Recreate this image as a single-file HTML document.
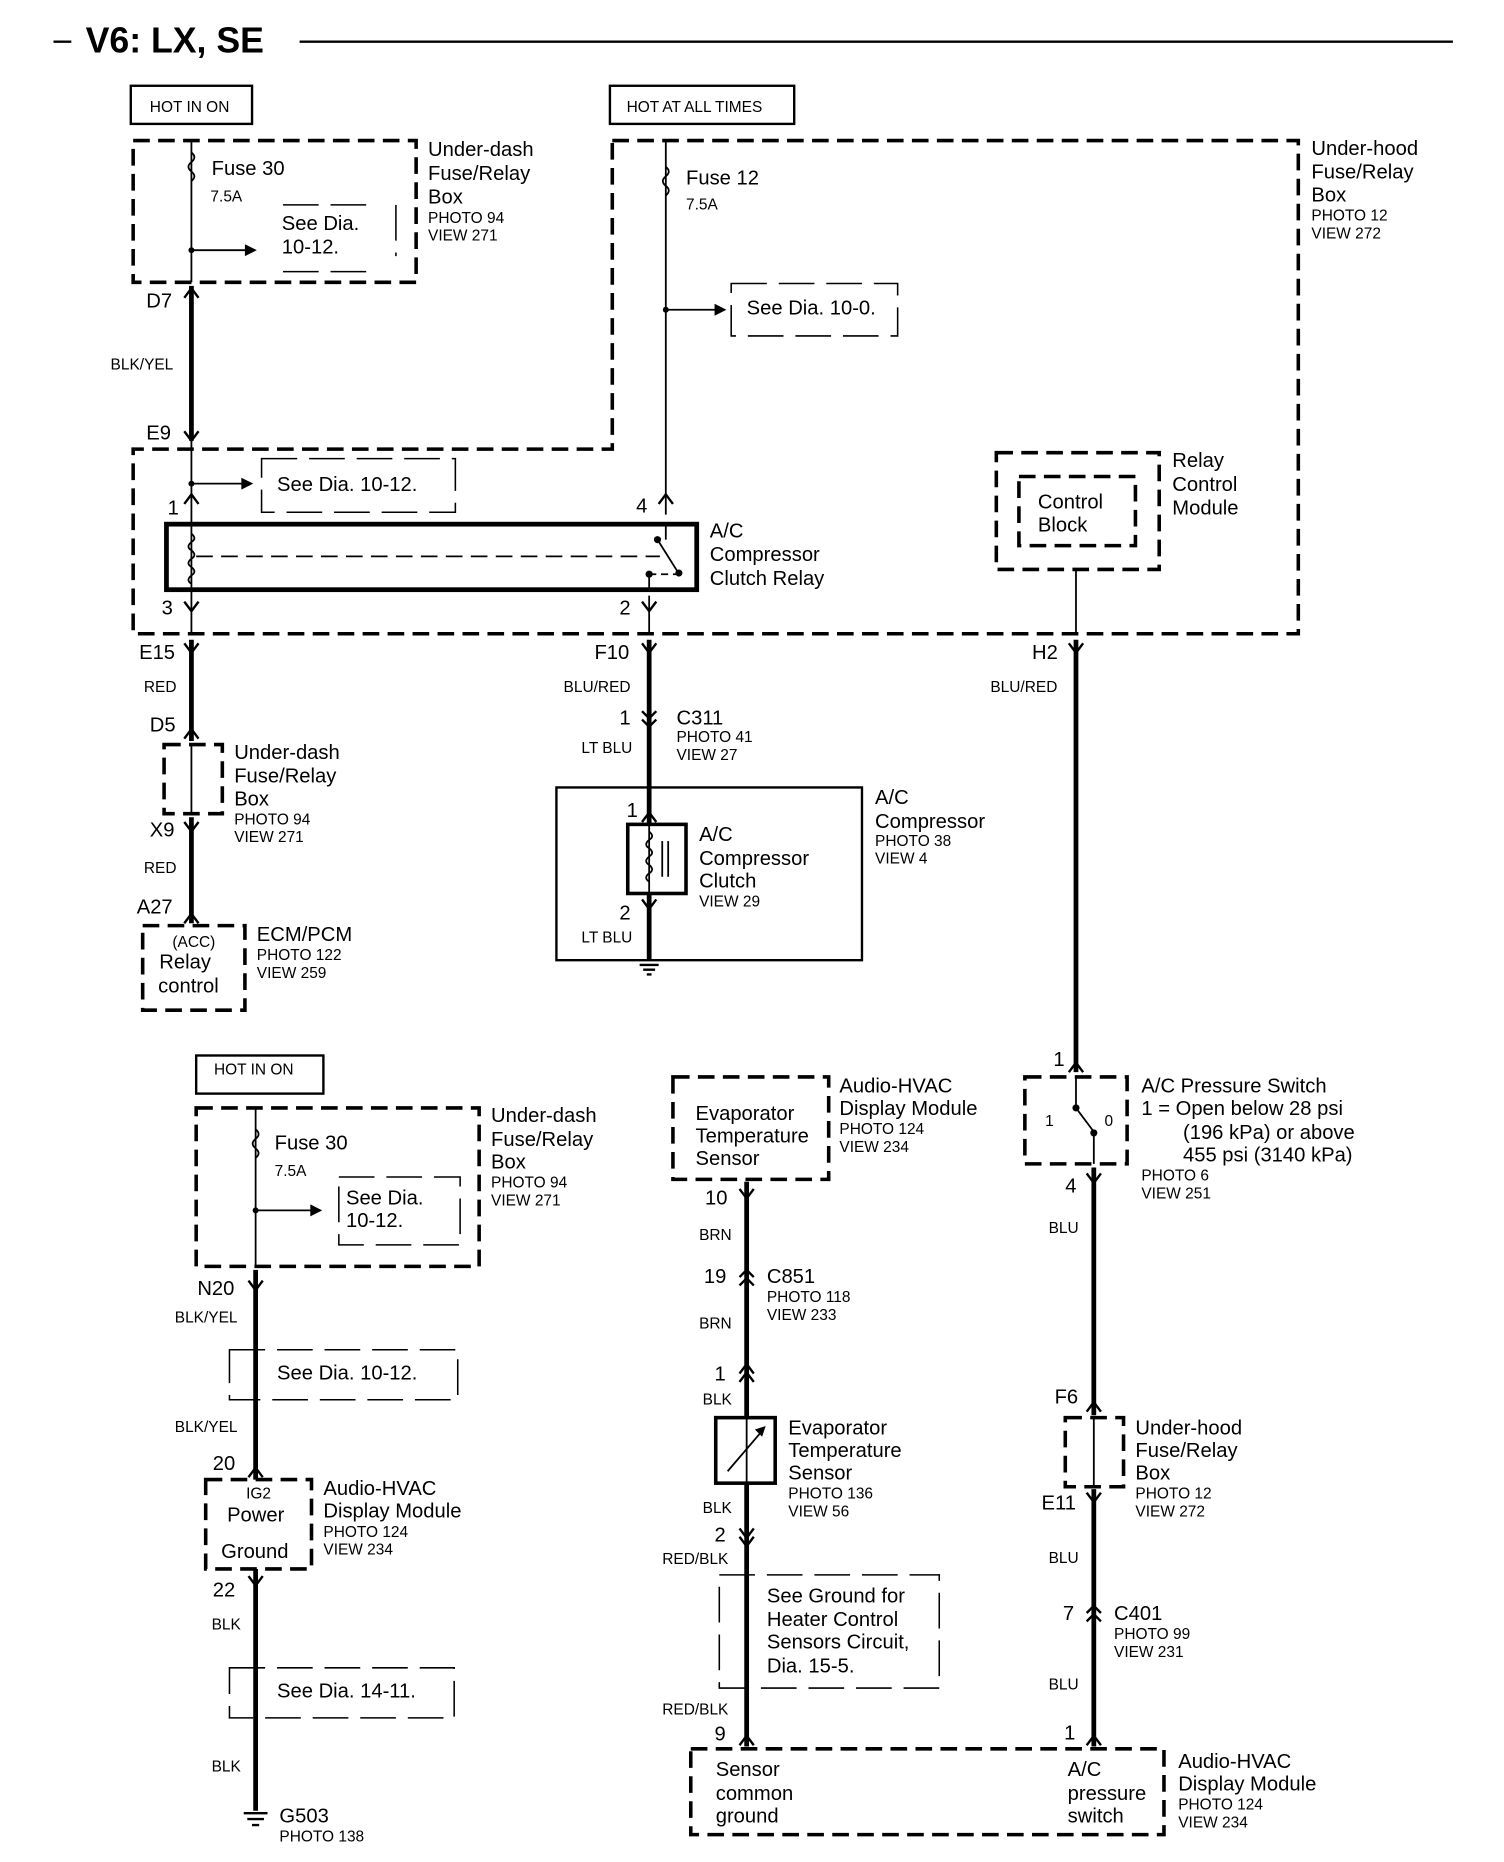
<!DOCTYPE html>
<html><head><meta charset="utf-8"><style>
html,body{margin:0;padding:0;background:#fff}
svg{display:block}
text{font-family:"Liberation Sans",Arial,sans-serif;fill:#000}
.m{font-size:17px}
.s{font-size:13px}
.w{font-size:13px}
</style></head><body>
<svg width="1504" height="1862" viewBox="0 0 1265 1563" preserveAspectRatio="none" xmlns="http://www.w3.org/2000/svg">
<g fill="none" stroke="#000">
<line x1="45" y1="35" x2="60" y2="35" stroke-width="2"/>
<line x1="252" y1="35" x2="1222" y2="35" stroke-width="2"/>
<rect x="110" y="72" width="102" height="32" stroke-width="2"/>
<rect x="513" y="72" width="155" height="32" stroke-width="2"/>
<rect x="165" y="886" width="107" height="32" stroke-width="2"/>
<g stroke-width="3" stroke-dasharray="14,7">
<rect x="112" y="118" width="238" height="119"/>
<path d="M515 118 H1092 V532 H112 V377 H515 Z"/>
<rect x="838" y="380" width="137" height="98"/>
<rect x="857" y="400" width="98" height="58"/>
<rect x="138" y="625" width="49" height="58"/>
<rect x="120" y="777" width="86" height="71"/>
<rect x="862" y="904" width="86" height="73"/>
<rect x="566" y="904" width="131" height="86"/>
<rect x="896" y="1190" width="49" height="58"/>
<rect x="581" y="1468" width="398" height="72"/>
<rect x="165" y="930" width="238" height="133"/>
<rect x="173" y="1242" width="89" height="75"/>
</g>
<g stroke-width="1.3" stroke-dasharray="30,10">
<path d="M238 172 H318 M238 228 H318 M333 172 V215"/>
<path d="M615 238 H755 V282 H615 Z"/>
<path d="M220 385 H383 V430 H220 Z"/>
<path d="M285 988 H387 V1045 H285 Z"/>
<path d="M193 1133 H385 V1175 H193 Z"/>
<path d="M605 1322 H790 V1417 H605 Z"/>
<path d="M193 1400 H382 V1442 H193 Z"/>
</g>
<rect x="140" y="440" width="446" height="55" stroke-width="4"/>
<rect x="468" y="661" width="257" height="145" stroke-width="2"/>
<rect x="528" y="692" width="49" height="58" stroke-width="3"/>
<rect x="602" y="1190" width="50" height="55" stroke-width="3"/>
<g stroke-width="1.5">
<line x1="161" y1="118" x2="161" y2="237"/>
<line x1="560" y1="118" x2="560" y2="432"/>
<line x1="161" y1="370" x2="161" y2="532"/>
<line x1="546" y1="500" x2="546" y2="532"/>
<line x1="905" y1="478" x2="905" y2="532"/>
<line x1="215" y1="930" x2="215" y2="1063"/>
<line x1="161" y1="625" x2="161" y2="683"/>
<line x1="920" y1="1190" x2="920" y2="1248"/>
<line x1="905" y1="904" x2="905" y2="930"/>
<line x1="920" y1="952" x2="920" y2="977"/>
<line x1="546" y1="692" x2="546" y2="750"/>
<line x1="165" y1="467" x2="555" y2="467" stroke-dasharray="14,7"/>
<line x1="553" y1="453" x2="570" y2="480"/>
<line x1="546" y1="482" x2="572" y2="482" stroke-dasharray="6,4"/>
<line x1="546" y1="482" x2="546" y2="495"/>
<line x1="560" y1="440" x2="560" y2="453"/>
<line x1="905" y1="930" x2="920" y2="950"/>
<line x1="612" y1="1235" x2="642" y2="1200"/>
<line x1="628" y1="1190" x2="628" y2="1245"/>
<line x1="161" y1="210" x2="210" y2="210"/>
<line x1="560" y1="260" x2="604" y2="260"/>
<line x1="161" y1="406" x2="206" y2="406"/>
<line x1="215" y1="1016" x2="264" y2="1016"/>
</g>
<g fill="#000" stroke="none">
<path d="M216 210 l-10 -5 v10 z"/><path d="M611 260 l-10 -5 v10 z"/>
<path d="M213 406 l-10 -5 v10 z"/><path d="M271 1016 l-10 -5 v10 z"/>
<path d="M644 1197 l-9 3 l6 6 z"/>
<circle cx="553" cy="453" r="3"/><circle cx="571" cy="481" r="3"/><circle cx="546" cy="482" r="3"/>
<circle cx="905" cy="930" r="3"/><circle cx="920" cy="951" r="3"/><circle cx="161" cy="210" r="2.5"/><circle cx="560" cy="260" r="2.5"/><circle cx="161" cy="406" r="2.5"/><circle cx="215" cy="1016" r="2.5"/>
</g>
<g stroke-width="1.5">
<path d="M161 128 q5 4 0 8 q-5 4 0 8 q5 4 0 8"/>
<path d="M560 140 q5 4 0 8 q-5 4 0 8 q5 4 0 8"/>
<path d="M215 948 q5 4 0 8 q-5 4 0 8 q5 4 0 8"/>
<path d="M161 448 q5 4 0 7 q-5 4 0 7 q5 4 0 7 q-5 4 0 7 q5 4 0 7 q-5 4 0 7"/>
<path d="M546 698 q5 4 0 7 q-5 4 0 7 q5 4 0 7 q-5 4 0 7 q5 4 0 7 q-5 4 0 7"/>
<line x1="557" y1="706" x2="557" y2="736"/><line x1="562" y1="706" x2="562" y2="736"/>
</g>
<g stroke-width="4">
<line x1="161" y1="240" x2="161" y2="370"/>
<line x1="161" y1="537" x2="161" y2="622"/>
<line x1="161" y1="686" x2="161" y2="775"/>
<line x1="546" y1="537" x2="546" y2="692"/>
<line x1="546" y1="750" x2="546" y2="806"/>
<line x1="905" y1="537" x2="905" y2="900"/>
<line x1="920" y1="980" x2="920" y2="1188"/>
<line x1="920" y1="1250" x2="920" y2="1466"/>
<line x1="628" y1="992" x2="628" y2="1190"/>
<line x1="628" y1="1245" x2="628" y2="1466"/>
<line x1="215" y1="1066" x2="215" y2="1242"/>
<line x1="215" y1="1317" x2="215" y2="1520"/>
</g>
<g stroke-width="2">
<path d="M155 250 l6 -8 l6 8"/><path d="M155 362 l6 8 l6 -8"/>
<path d="M155 423 l6 -8 l6 8"/><path d="M554 423 l6 -8 l6 8"/>
<path d="M155 505 l6 8 l6 -8"/><path d="M540 505 l6 8 l6 -8"/>
<path d="M155 540 l6 8 l6 -8"/><path d="M540 540 l6 8 l6 -8"/><path d="M899 540 l6 8 l6 -8"/>
<path d="M155 620 l6 -8 l6 8"/><path d="M155 690 l6 8 l6 -8"/><path d="M155 775 l6 -8 l6 8"/>
<path d="M540 597 l6 6 l6 -6 M540 604 l6 6 l6 -6"/>
<path d="M540 690 l6 -8 l6 8"/><path d="M540 755 l6 8 l6 -8"/>
<path d="M899 900 l6 -8 l6 8"/><path d="M914 985 l6 8 l6 -8"/>
<path d="M914 1185 l6 -8 l6 8"/><path d="M914 1253 l6 8 l6 -8"/>
<path d="M914 1354 l6 -6 l6 6 M914 1361 l6 -6 l6 6"/>
<path d="M914 1465 l6 -8 l6 8"/>
<path d="M622 998 l6 8 l6 -8"/>
<path d="M622 1072 l6 -6 l6 6 M622 1079 l6 -6 l6 6"/>
<path d="M622 1153 l6 -8 l6 8 M622 1160 l6 -8 l6 8"/>
<path d="M622 1283 l6 8 l6 -8 M622 1290 l6 8 l6 -8"/>
<path d="M622 1465 l6 -8 l6 8"/>
<path d="M209 1075 l6 8 l6 -8"/><path d="M209 1240 l6 -8 l6 8"/><path d="M209 1323 l6 8 l6 -8"/>
<path d="M538 810 h16 M541 814 h10 M544 818 h4"/>
<path d="M205 1522 h20 M208 1527 h14 M212 1532 h6"/>
</g>
</g>
<text x="72" y="44" style="font-size:30px;font-weight:bold">V6: LX, SE</text>
<text x="126" y="94" class="s">HOT IN ON</text>
<text x="527" y="94" class="s">HOT AT ALL TIMES</text>
<text x="180" y="902" class="s">HOT IN ON</text>
<g class="m">
<text x="178" y="147">Fuse 30</text><text x="237" y="193">See Dia.</text><text x="237" y="213">10-12.</text>
<text x="360" y="131">Under-dash</text><text x="360" y="151">Fuse/Relay</text><text x="360" y="171">Box</text>
<text x="577" y="155">Fuse 12</text><text x="628" y="264">See Dia. 10-0.</text>
<text x="1103" y="130">Under-hood</text><text x="1103" y="150">Fuse/Relay</text><text x="1103" y="169">Box</text>
<text x="123" y="258">D7</text><text x="123" y="369">E9</text>
<text x="233" y="412">See Dia. 10-12.</text>
<text x="141" y="432">1</text><text x="535" y="430">4</text><text x="136" y="516">3</text><text x="521" y="516">2</text>
<text x="597" y="451">A/C</text><text x="597" y="471">Compressor</text><text x="597" y="491">Clutch Relay</text>
<text x="873" y="427">Control</text><text x="873" y="446">Block</text>
<text x="986" y="392">Relay</text><text x="986" y="412">Control</text><text x="986" y="432">Module</text>
<text x="117" y="553">E15</text><text x="500" y="553">F10</text><text x="868" y="553">H2</text>
<text x="126" y="614">D5</text><text x="197" y="637">Under-dash</text><text x="197" y="657">Fuse/Relay</text><text x="197" y="676">Box</text>
<text x="126" y="702">X9</text><text x="115" y="767">A27</text>
<text x="134" y="813">Relay</text><text x="133" y="833">control</text>
<text x="216" y="790">ECM/PCM</text>
<text x="521" y="608">1</text><text x="569" y="608">C311</text>
<text x="736" y="675">A/C</text><text x="736" y="695">Compressor</text>
<text x="588" y="706">A/C</text><text x="588" y="726">Compressor</text><text x="588" y="745">Clutch</text>
<text x="527" y="686">1</text><text x="521" y="772">2</text>
<text x="886" y="895">1</text>
<text x="960" y="917">A/C Pressure Switch</text><text x="960" y="936">1 = Open below 28 psi</text>
<text x="995" y="956">(196 kPa) or above</text><text x="995" y="975">455 psi (3140 kPa)</text>
<text x="896" y="1001">4</text>
<text x="585" y="940">Evaporator</text><text x="585" y="959">Temperature</text><text x="585" y="978">Sensor</text>
<text x="706" y="917">Audio-HVAC</text><text x="706" y="936">Display Module</text>
<text x="593" y="1011">10</text><text x="592" y="1077">19</text><text x="645" y="1077">C851</text><text x="601" y="1159">1</text>
<text x="663" y="1204">Evaporator</text><text x="663" y="1223">Temperature</text><text x="663" y="1242">Sensor</text>
<text x="601" y="1294">2</text>
<text x="645" y="1345">See Ground for</text><text x="645" y="1365">Heater  Control</text><text x="645" y="1384">Sensors Circuit,</text><text x="645" y="1404">Dia. 15-5.</text>
<text x="601" y="1461">9</text>
<text x="602" y="1491">Sensor</text><text x="602" y="1511">common</text><text x="602" y="1530">ground</text>
<text x="898" y="1491">A/C</text><text x="898" y="1511">pressure</text><text x="898" y="1530">switch</text>
<text x="991" y="1484">Audio-HVAC</text><text x="991" y="1503">Display Module</text>
<text x="887" y="1178">F6</text><text x="955" y="1204">Under-hood</text><text x="955" y="1223">Fuse/Relay</text><text x="955" y="1242">Box</text>
<text x="876" y="1267">E11</text><text x="894" y="1360">7</text><text x="937" y="1360">C401</text><text x="895" y="1460">1</text>
<text x="231" y="965">Fuse 30</text><text x="291" y="1011">See Dia.</text><text x="291" y="1030">10-12.</text>
<text x="413" y="942">Under-dash</text><text x="413" y="962">Fuse/Relay</text><text x="413" y="981">Box</text>
<text x="166" y="1087">N20</text><text x="233" y="1158">See Dia. 10-12.</text><text x="179" y="1234">20</text>
<text x="191" y="1277">Power</text><text x="186" y="1308">Ground</text>
<text x="272" y="1255">Audio-HVAC</text><text x="272" y="1274">Display Module</text>
<text x="179" y="1340">22</text><text x="233" y="1425">See Dia. 14-11.</text>
<text x="235" y="1530">G503</text>
</g>
<g class="s">
<text x="177" y="169">7.5A</text><text x="577" y="176">7.5A</text><text x="231" y="987">7.5A</text>
<text x="360" y="187">PHOTO 94</text><text x="360" y="202">VIEW 271</text>
<text x="1103" y="185">PHOTO 12</text><text x="1103" y="200">VIEW 272</text>
<text x="93" y="310">BLK/YEL</text>
<text x="121" y="581">RED</text><text x="474" y="581">BLU/RED</text><text x="833" y="581">BLU/RED</text>
<text x="197" y="692">PHOTO 94</text><text x="197" y="707">VIEW 271</text>
<text x="121" y="733">RED</text>
<text x="145" y="795">(ACC)</text>
<text x="216" y="806">PHOTO 122</text><text x="216" y="821">VIEW 259</text>
<text x="569" y="623">PHOTO 41</text><text x="569" y="638">VIEW 27</text>
<text x="489" y="632">LT BLU</text><text x="489" y="791">LT BLU</text>
<text x="736" y="710">PHOTO 38</text><text x="736" y="725">VIEW 4</text>
<text x="588" y="761">VIEW 29</text>
<text x="879" y="945">1</text><text x="929" y="945">0</text>
<text x="960" y="991">PHOTO 6</text><text x="960" y="1006">VIEW 251</text>
<text x="882" y="1035">BLU</text><text x="882" y="1312">BLU</text><text x="882" y="1418">BLU</text>
<text x="955" y="1258">PHOTO 12</text><text x="955" y="1273">VIEW 272</text>
<text x="937" y="1376">PHOTO 99</text><text x="937" y="1391">VIEW 231</text>
<text x="991" y="1519">PHOTO 124</text><text x="991" y="1534">VIEW 234</text>
<text x="706" y="952">PHOTO 124</text><text x="706" y="967">VIEW 234</text>
<text x="588" y="1041">BRN</text><text x="588" y="1115">BRN</text>
<text x="645" y="1093">PHOTO 118</text><text x="645" y="1108">VIEW 233</text>
<text x="591" y="1179">BLK</text><text x="591" y="1270">BLK</text>
<text x="663" y="1258">PHOTO 136</text><text x="663" y="1273">VIEW 56</text>
<text x="557" y="1313">RED/BLK</text><text x="557" y="1439">RED/BLK</text>
<text x="413" y="997">PHOTO 94</text><text x="413" y="1012">VIEW 271</text>
<text x="147" y="1110">BLK/YEL</text><text x="147" y="1202">BLK/YEL</text>
<text x="207" y="1258">IG2</text>
<text x="272" y="1290">PHOTO 124</text><text x="272" y="1305">VIEW 234</text>
<text x="178" y="1368">BLK</text><text x="178" y="1487">BLK</text>
<text x="235" y="1546">PHOTO 138</text>
</g>
</svg>
</body></html>
